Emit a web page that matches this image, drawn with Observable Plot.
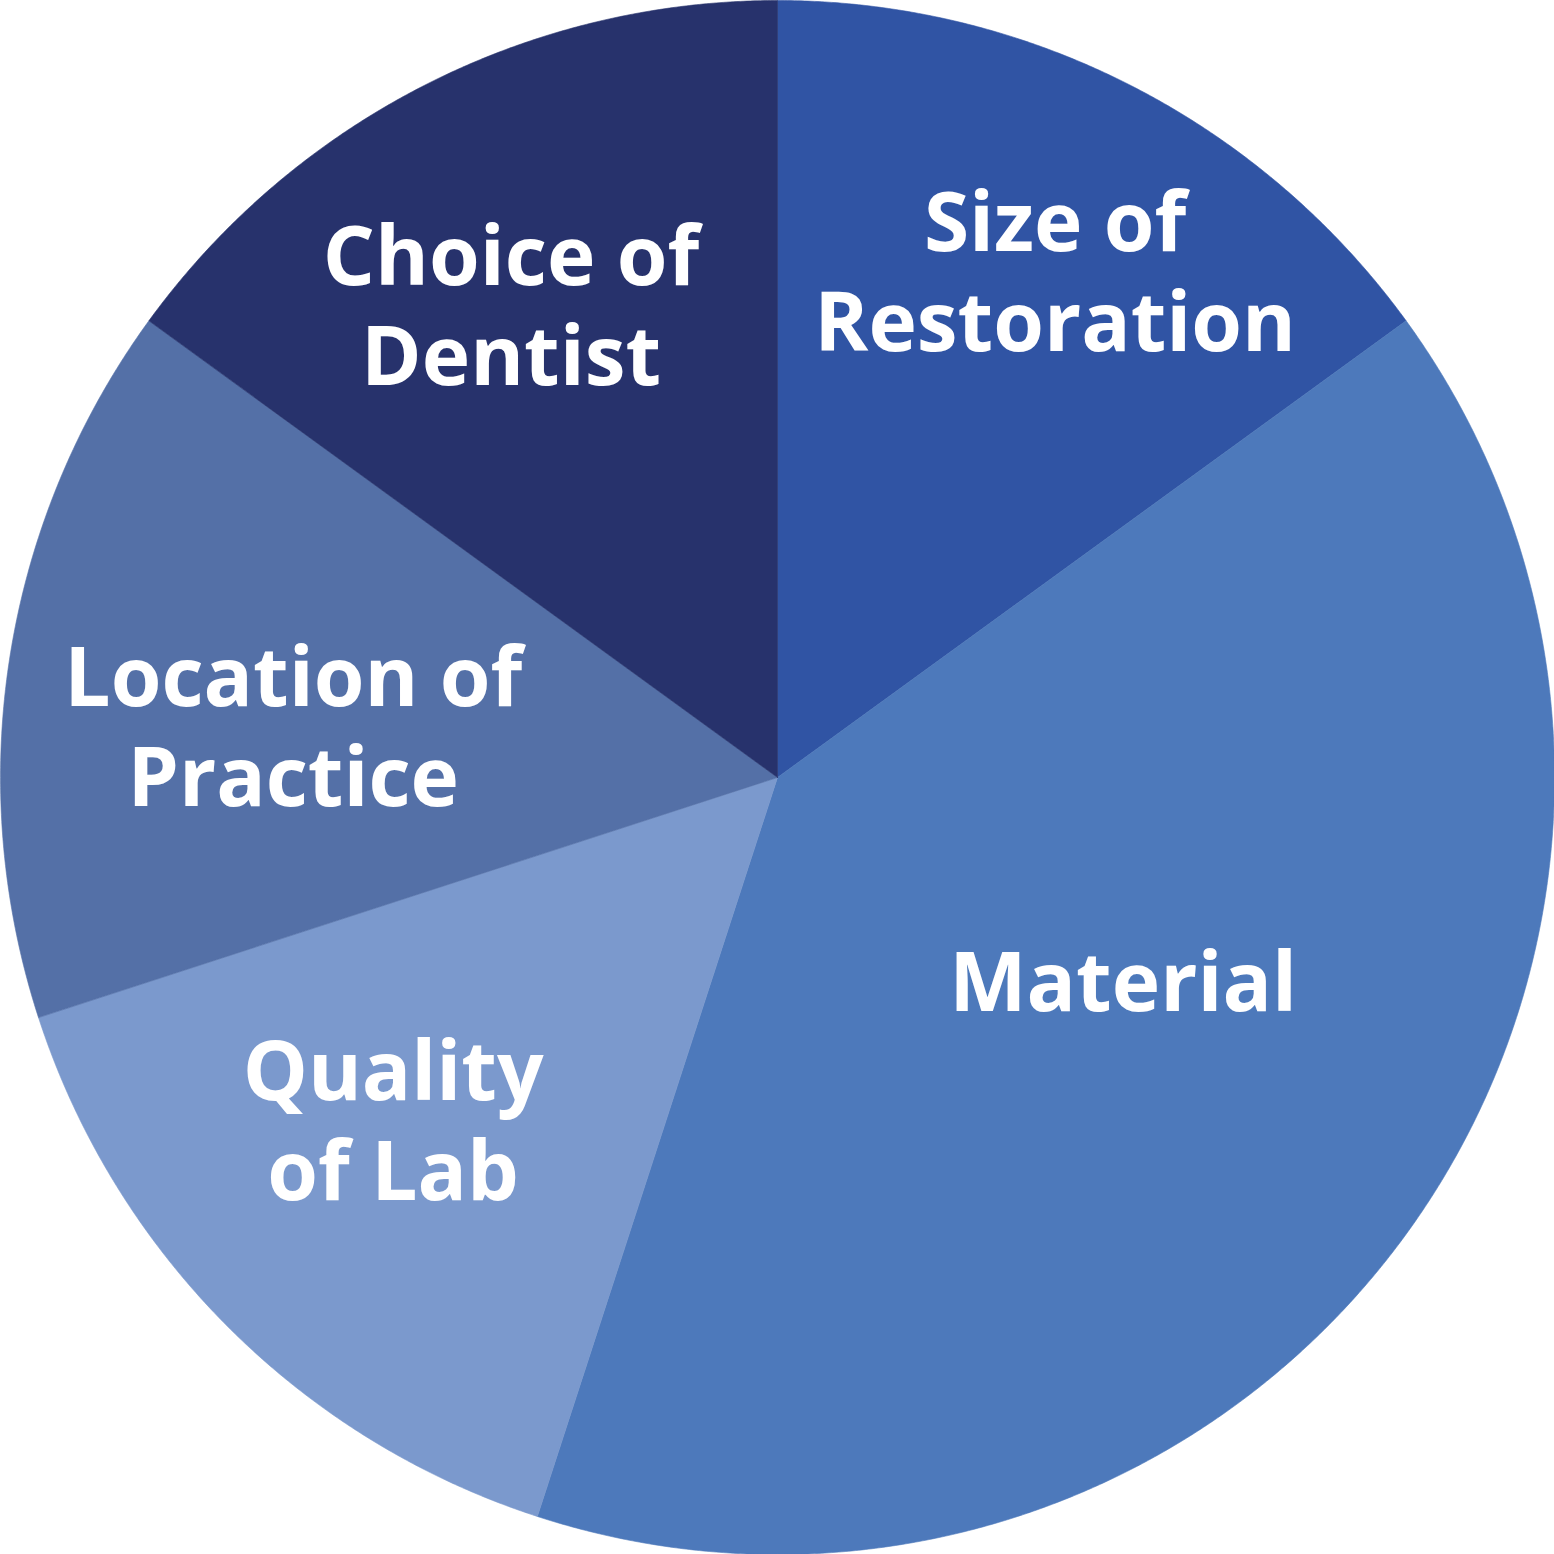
<!DOCTYPE html>
<html>
<head>
<meta charset="utf-8">
<script src="https://cdn.jsdelivr.net/npm/d3@7"></script>
<script src="https://cdn.jsdelivr.net/npm/@observablehq/plot@0.6"></script>
<style>
  html, body { margin: 0; padding: 0; background: #ffffff; }
  #chart svg { display: block; }
  #chart svg text { font-variant-ligatures: none; font-feature-settings: "liga" 0, "clig" 0; }
</style>
</head>
<body>
<div id="chart"></div>
<script>
// Data (clockwise from 12 o'clock)
const categories = ["Size of Restoration", "Material", "Quality of Lab", "Location of Practice", "Choice of Dentist"];
const values = [15, 40, 15, 15, 15];
const labelTexts = ["Size of\nRestoration", "Material", "Quality\nof Lab", "Location of\nPractice", "Choice of\nDentist"];
const colors = ["#3054a4", "#4d79bb", "#7b99cd", "#5470a7", "#27326c"];

// Label layout (angle offset in degrees, radius as fraction of pie radius)
const labelAngleOffset = [2, -4.8, 2.78, -3.6, -2.76];
const labelRadius = [0.737, 0.52, 0.668, 0.626, 0.691];

const W = 1554, H = 1554;

const arcs = d3.pie().sort(null).value(d => d.value)(
  categories.map((c, i) => ({category: c, value: values[i]}))
);

// Build slice polygons from pie angles
const slicePts = [];
arcs.forEach(a => {
  const c = a.data.category;
  slicePts.push({category: c, x: 0, y: 0});
  const n = Math.max(2, Math.ceil((a.endAngle - a.startAngle) / (Math.PI / 720)));
  for (let k = 0; k <= n; k++) {
    const t = a.startAngle + (a.endAngle - a.startAngle) * k / n;
    slicePts.push({category: c, x: Math.sin(t), y: Math.cos(t)});
  }
  slicePts.push({category: c, x: 0, y: 0});
});

const labels = arcs.map((a, i) => {
  const mid = (a.startAngle + a.endAngle) / 2 + labelAngleOffset[i] * Math.PI / 180;
  const r = labelRadius[i];
  return {text: labelTexts[i], x: r * Math.sin(mid), y: r * Math.cos(mid)};
});

const chart = Plot.plot({
  width: W,
  height: H,
  margin: 0,
  x: {domain: [-1, 1], axis: null},
  y: {domain: [-1, 1], axis: null},
  color: {domain: categories, range: colors},
  style: {background: "#ffffff"},
  marks: [
    Plot.line(slicePts, {x: "x", y: "y", z: "category", fill: "category", stroke: "category", strokeWidth: 0.6, curve: "linear"}),
    Plot.text(labels, {
      x: "x", y: "y", text: "text",
      fill: "#ffffff",
      fontSize: 82,
      fontWeight: 700,
      fontFamily: "'Open Sans', sans-serif",
      lineHeight: 1.22,
      dy: -8,
      textAnchor: "middle"
    })
  ]
});

document.getElementById("chart").appendChild(chart);
</script>
</body>
</html>
